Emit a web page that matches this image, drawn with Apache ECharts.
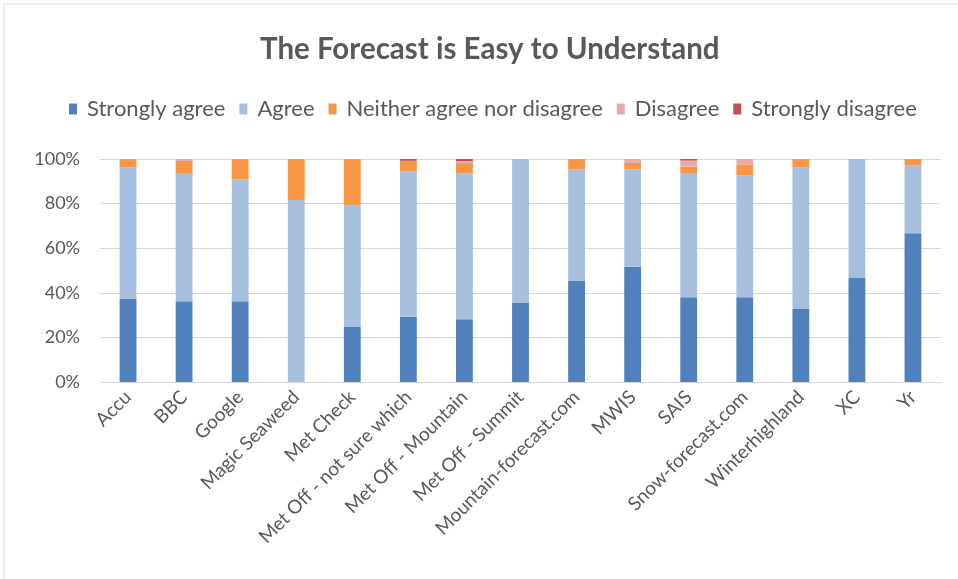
<!DOCTYPE html>
<html>
<head>
<meta charset="utf-8">
<script src="https://cdn.jsdelivr.net/npm/echarts@6/dist/echarts.min.js"></script>
<style>
  html, body { margin: 0; padding: 0; background: #fff; }
  #chart { width: 958px; height: 579px; }
</style>
</head>
<body>
<div id="chart"></div>
<script>
// Survey responses per forecast provider (percent of respondents)
const categories = ['Accu', 'BBC', 'Google', 'Magic Seaweed', 'Met Check',
  'Met Off - not sure which', 'Met Off - Mountain', 'Met Off - Summit',
  'Mountain-forecast.com', 'MWIS', 'SAIS', 'Snow-forecast.com',
  'Winterhighland', 'XC', 'Yr'];
const stronglyAgree    = [37.2, 36.2, 36.2, 0, 24.7, 29.3, 28.1, 35.6, 45.3, 51.7, 38.0, 38.0, 32.7, 46.6, 66.7];
const agree            = [58.9, 57.5, 54.7, 81.6, 54.7, 65.0, 65.5, 64.4, 50.1, 43.7, 55.7, 54.7, 63.4, 53.4, 30.5];
const neither          = [3.9, 5.4, 9.1, 18.4, 20.6, 4.9, 4.6, 0, 4.6, 2.8, 2.9, 4.9, 3.9, 0, 2.8];
const disagree         = [0, 0.9, 0, 0, 0, 0, 0.9, 0, 0, 1.8, 2.7, 2.4, 0, 0, 0];
const stronglyDisagree = [0, 0, 0, 0, 0, 0.8, 0.9, 0, 0, 0, 0.7, 0, 0, 0, 0];
const yTicks = [0, 20, 40, 60, 80, 100];

const seriesNames = ['Strongly agree', 'Agree', 'Neither agree nor disagree', 'Disagree', 'Strongly disagree'];
const seriesData = [stronglyAgree, agree, neither, disagree, stronglyDisagree];
const colors = ['#4F81BD', '#A7BFDE', '#F79646', '#E6ABAA', '#C0504D'];

const font = 'Lato, "Open Sans", sans-serif';
const textGray = '#595959';

const chart = echarts.init(document.getElementById('chart'));
chart.setOption({
  animation: false,
  color: colors,
  graphic: [{
    type: 'rect',
    shape: { x: 4, y: 4, width: 1000, height: 600 },
    style: { fill: 'none', stroke: '#d9d9d9', lineWidth: 1 }
  }],
  title: {
    text: 'The Forecast is Easy to Understand',
    left: 255,
    top: 29,
    padding: 5,
    textStyle: { fontFamily: font, fontSize: 29.5, fontWeight: 'bold', color: textGray }
  },
  legend: {
    data: seriesNames,
    top: 93,
    left: 64,
    padding: 5,
    itemWidth: 8,
    itemHeight: 11,
    itemGap: 14,
    icon: 'rect',
    textStyle: { fontFamily: font, fontSize: 22, color: textGray, padding: [0, 0, 0, 5] }
  },
  grid: { left: 100, right: 17, top: 159, bottom: 197, containLabel: false },
  xAxis: {
    type: 'category',
    data: categories,
    axisLine: { lineStyle: { color: '#d9d9d9' } },
    axisTick: { show: false },
    axisLabel: {
      rotate: 45,
      interval: 0,
      margin: 12,
      fontFamily: font,
      fontSize: 19,
      color: textGray
    }
  },
  yAxis: {
    type: 'value',
    min: yTicks[0],
    max: yTicks[yTicks.length - 1],
    interval: 20,
    axisLine: { show: false },
    axisTick: { show: false },
    splitLine: { lineStyle: { color: '#d9d9d9' } },
    axisLabel: {
      formatter: '{value}%',
      margin: 20,
      fontFamily: font,
      fontSize: 18,
      color: textGray
    }
  },
  series: seriesNames.map((name, i) => ({
    name: name,
    type: 'bar',
    stack: 'total',
    barWidth: '30%',
    data: seriesData[i]
  }))
});
</script>
</body>
</html>
